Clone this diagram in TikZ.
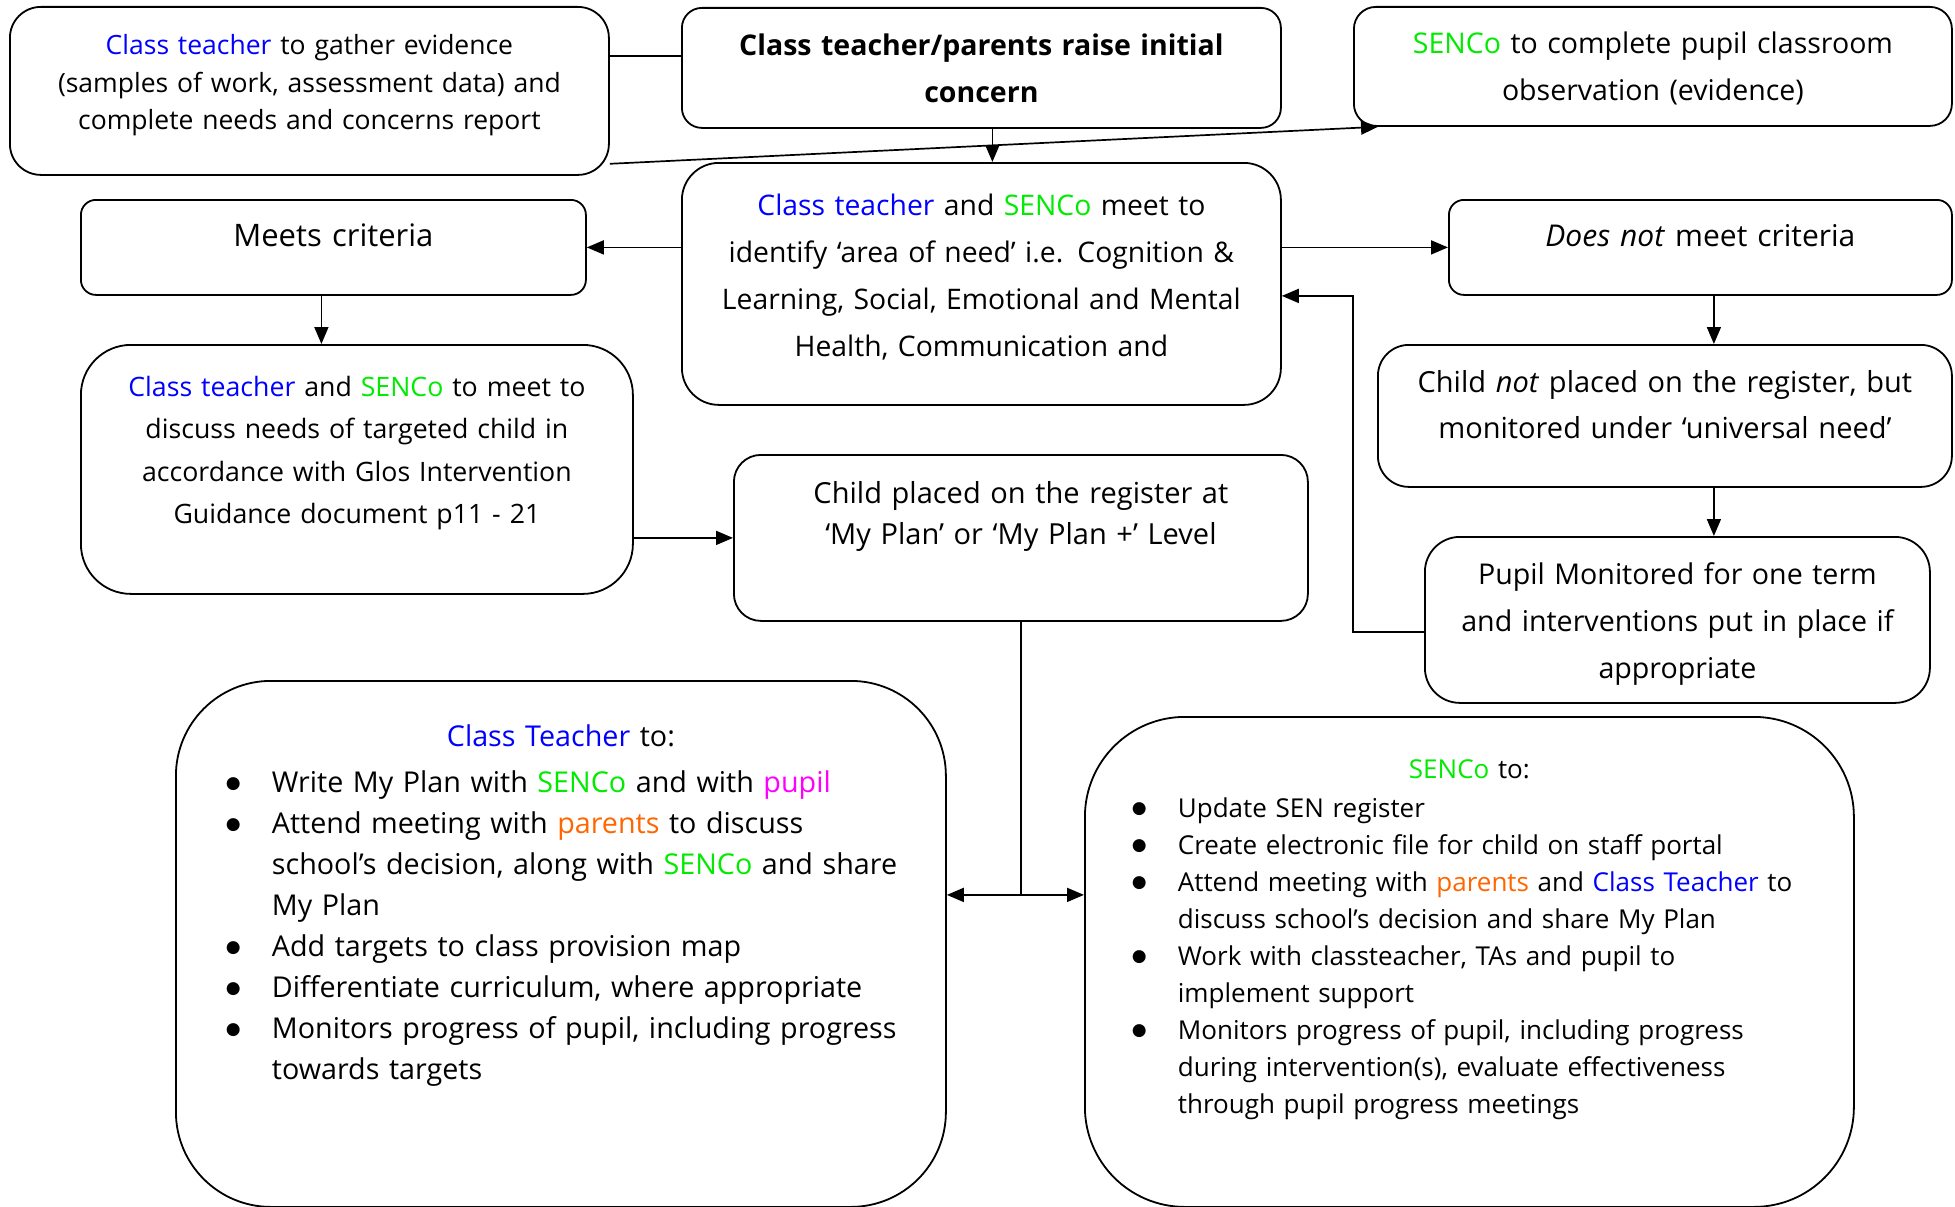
\documentclass[tikz,border=0pt]{standalone}
\usepackage{fontspec}
\setmainfont{Open Sans}
\newfontfamily\symfont{DejaVu Sans}
\usepackage{tikz}
\usetikzlibrary{arrows.meta}
\usepackage{xcolor}
\definecolor{teacherblue}{RGB}{0,0,255}
\definecolor{sencogreen}{RGB}{0,235,0}
\definecolor{pupilpink}{RGB}{255,0,255}
\definecolor{parentorange}{RGB}{255,102,0}
\newcommand{\bigbul}{\hspace*{-4pt}\raisebox{4pt}{\symfont\fontsize{17}{17}\selectfont ●}}

\begin{document}
\begin{tikzpicture}[x=1pt, y=-1pt,
  flowb/.style={rectangle,draw=black,line width=1.8pt,anchor=north west,
    align=center,inner sep=0pt,text height=0pt},
  listb/.style={flowb,align=left},
  line/.style={line width=1.7pt},
  arrow/.style={-{Triangle[length=17pt,width=14pt]},line width=1.7pt},
  dblarrow/.style={{Triangle[length=17pt,width=14pt]}-{Triangle[length=17pt,width=14pt]},line width=1.7pt},
]
\useasboundingbox (0,0) rectangle (1955,1207);

% top row
\node[flowb, rounded corners=31pt, minimum width=599pt, minimum height=168pt, text width=592pt, text depth=72pt,
  font=\fontsize{26.5}{37.4}\selectfont] (gather) at (9,6)
  {\textcolor{teacherblue}{Class teacher} to gather evidence\\(samples of work, assessment data) and\\complete needs and concerns report};
\node[flowb, rounded corners=20pt, minimum width=599pt, minimum height=120pt, text width=592pt, text depth=24pt,
  font=\bfseries\fontsize{28.5}{47}\selectfont] (concern) at (681,7)
  {Class teacher/parents raise initial\\concern};
\node[flowb, rounded corners=22pt, minimum width=598pt, minimum height=119pt, text width=592pt, text depth=25pt,
  font=\fontsize{28.5}{47}\selectfont] (observe) at (1353,6)
  {\textcolor{sencogreen}{SENCo} to complete pupil classroom\\observation (evidence)};

% middle
\node[flowb, rounded corners=37pt, minimum width=599pt, minimum height=242pt, text width=592pt, text depth=136pt,
  font=\fontsize{28.3}{47}\selectfont] (identify) at (681,162)
  {\textcolor{teacherblue}{Class teacher} and \textcolor{sencogreen}{SENCo} meet to\\identify ‘area of need’ i.e. Cognition \&\\Learning, Social, Emotional and Mental\\Health, Communication and};
\node[flowb, rounded corners=15pt, minimum width=505pt, minimum height=95pt, text width=498pt, text depth=1pt,
  font=\fontsize{31}{47}\selectfont] (meets) at (80,199) {Meets criteria};
\node[flowb, rounded corners=15pt, minimum width=503pt, minimum height=95pt, text width=496pt, text depth=1pt,
  font=\fontsize{30}{47}\selectfont] (notmeets) at (1448,199) {\textit{Does not} meet criteria};
\node[flowb, rounded corners=50pt, minimum width=552pt, minimum height=249pt, text width=545pt, text depth=146pt,
  font=\fontsize{26.7}{42.5}\selectfont] (discuss) at (80,344)
  {\textcolor{teacherblue}{Class teacher} and \textcolor{sencogreen}{SENCo} to meet to\\discuss needs of targeted child in\\accordance with Glos Intervention\\Guidance document p11 - 21};
\node[flowb, rounded corners=27pt, minimum width=574pt, minimum height=166pt, text width=567pt, text depth=68pt,
  font=\fontsize{29}{41}\selectfont] (register) at (733,454)
  {Child placed on the register at\\‘My Plan’ or ‘My Plan +’ Level};
\node[flowb, rounded corners=31pt, minimum width=574pt, minimum height=142pt, text width=567pt, text depth=46pt,
  font=\fontsize{29}{46}\selectfont] (notplaced) at (1377,344)
  {Child \textit{not} placed on the register, but\\monitored under ‘universal need’};
\node[flowb, rounded corners=35pt, minimum width=505pt, minimum height=166pt, text width=498pt, text depth=70pt,
  font=\fontsize{28.6}{47}\selectfont] (monitor) at (1424,536)
  {Pupil Monitored for one term\\and interventions put in place if\\appropriate};

% bottom lists
\node[listb, rounded corners=95pt, minimum width=770pt, minimum height=526pt, text width=662pt, text depth=394pt,
  font=\fontsize{28.7}{41}\selectfont] (teacherto) at (175,680)
  {{\centering\textcolor{teacherblue}{Class Teacher} to:\par}\vspace{5pt}
   \noindent\begin{tabular}[t]{@{}p{42pt}@{}l@{}}
   \bigbul & Write My Plan with \textcolor{sencogreen}{SENCo} and with \textcolor{pupilpink}{pupil}\\
   \bigbul & Attend meeting with \textcolor{parentorange}{parents} to discuss\\
           & school’s decision, along with \textcolor{sencogreen}{SENCo} and share\\
           & My Plan\\
   \bigbul & Add targets to class provision map\\
   \bigbul & Differentiate curriculum, where appropriate\\
   \bigbul & Monitors progress of pupil, including progress\\
           & towards targets
   \end{tabular}};
\node[listb, rounded corners=100pt, minimum width=769pt, minimum height=490pt, text width=667pt, text depth=366pt,
  font=\fontsize{26}{37}\selectfont] (sencoto) at (1084,716)
  {{\centering\textcolor{sencogreen}{SENCo} to:\par}\vspace{2pt}
   \noindent\begin{tabular}[t]{@{}p{42pt}@{}l@{}}
   \bigbul & Update SEN register\\
   \bigbul & Create electronic file for child on staff portal\\
   \bigbul & Attend meeting with \textcolor{parentorange}{parents} and \textcolor{teacherblue}{Class Teacher} to\\
           & discuss school’s decision and share My Plan\\
   \bigbul & Work with classteacher, TAs and pupil to\\
           & implement support\\
   \bigbul & Monitors progress of pupil, including progress\\
           & during intervention(s), evaluate effectiveness\\
           & through pupil progress meetings
   \end{tabular}};

\draw[line] ([yshift=35pt]gather.east) -- ([yshift=12pt]concern.west);
\draw[arrow] ([yshift=12pt]gather.south east) -- ([xshift=25pt]observe.south west);
\draw[arrow] ([xshift=11pt]concern.south) -- ([xshift=11pt]identify.north);
\draw[arrow] (identify.west |- meets.east) -- (meets.east);
\draw[arrow] (identify.east |- notmeets.west) -- (notmeets.west);
\coordinate (e1) at ([xshift=-12pt]meets.south);
\draw[arrow] (e1) -- (e1 |- discuss.north);
\coordinate (f1) at ([xshift=13.5pt]notmeets.south);
\draw[arrow] (f1) -- (f1 |- notplaced.north);
\draw[arrow] (f1 |- notplaced.south) -- (f1 |- monitor.north);
\draw[arrow] ([yshift=-12pt]monitor.west) -- ++(-71,0) |- ([yshift=-12pt]identify.east);
\draw[arrow] (discuss.east |- register.west) -- (register.west);
\coordinate (kin) at ([yshift=49pt]teacherto.east);
\coordinate (lin) at ([yshift=67pt]sencoto.west);
\draw[dblarrow] (kin) -- (lin);
\draw[line] (register.south) -- (register.south |- kin);
\end{tikzpicture}
\end{document}
